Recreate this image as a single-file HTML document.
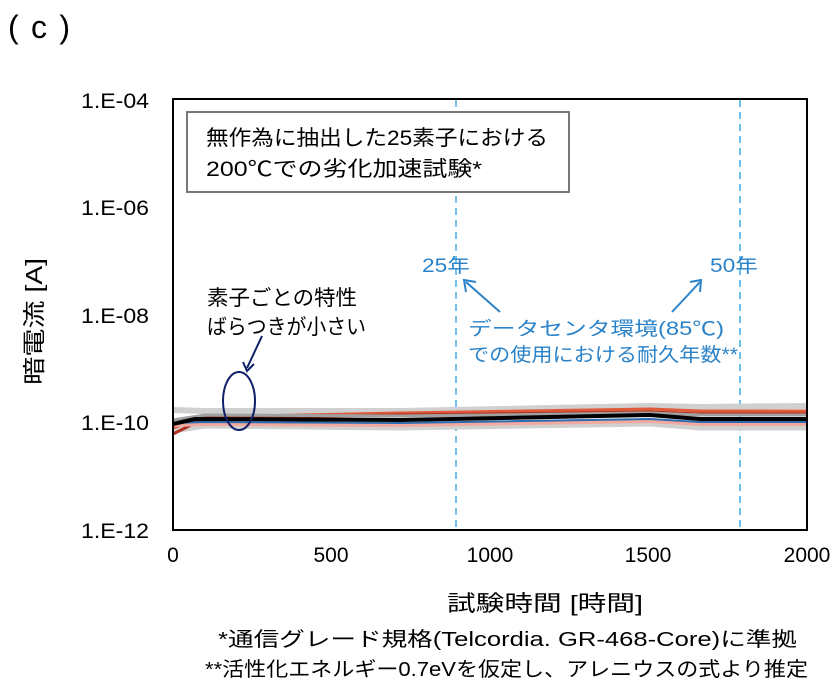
<!DOCTYPE html>
<html><head><meta charset="utf-8"><style>
html,body{margin:0;padding:0;background:#fff}
svg{display:block}
text{font-family:"Liberation Sans","Noto Sans CJK JP",sans-serif}
</style></head><body>
<svg width="838" height="693" viewBox="0 0 838 693" xmlns="http://www.w3.org/2000/svg">
<text x="8" y="38" font-size="32" fill="#000" textLength="62" lengthAdjust="spacing">(c)</text>
<line x1="456" y1="100" x2="456" y2="530" stroke="#6cc4ee" stroke-width="2" stroke-dasharray="7,5"/>
<line x1="740" y1="100" x2="740" y2="530" stroke="#6cc4ee" stroke-width="2" stroke-dasharray="7,5"/>
<g fill="none" stroke-linejoin="round">
<polyline points="173,431 205,426 400,428 650,424 700,428 807,428" stroke="#d0d0d0" stroke-width="5"/>
<polyline points="173,410 205,411 400,411 650,406 700,407 807,406" stroke="#d0d0d0" stroke-width="6"/>
<polyline points="173,428 205,417 400,413 650,409 700,411 807,411" stroke="#e05a3a" stroke-width="3"/>
<polyline points="173,434 205,418 400,415 650,412 700,414 807,414" stroke="#b03020" stroke-width="3"/>
<polyline points="173,425 205,424 400,425 650,421 700,424 807,424" stroke="#f2aaa0" stroke-width="4"/>
<polyline points="173,423 205,422 400,423 650,419 700,422 807,422" stroke="#2b6cb0" stroke-width="2"/>
<polyline points="173,420 205,415 400,416 650,413 700,415 807,415" stroke="#a0a0a0" stroke-width="3"/>
<polyline points="173,424 195,419 400,420 650,415 700,419 807,419" stroke="#000" stroke-width="4"/>
</g>
<rect x="173" y="99" width="634" height="431" fill="none" stroke="#000" stroke-width="2"/>
<g font-size="21" fill="#000" text-anchor="end">
<text x="149" y="108" textLength="68" lengthAdjust="spacingAndGlyphs">1.E-04</text>
<text x="149" y="215" textLength="68" lengthAdjust="spacingAndGlyphs">1.E-06</text>
<text x="149" y="323" textLength="68" lengthAdjust="spacingAndGlyphs">1.E-08</text>
<text x="149" y="430" textLength="68" lengthAdjust="spacingAndGlyphs">1.E-10</text>
<text x="149" y="538" textLength="68" lengthAdjust="spacingAndGlyphs">1.E-12</text>
</g>
<g font-size="21" fill="#000" text-anchor="middle">
<text x="173" y="562">0</text>
<text x="331" y="562">500</text>
<text x="490" y="562">1000</text>
<text x="648" y="562">1500</text>
<text x="807" y="562">2000</text>
</g>
<text x="447" y="611" font-size="22" fill="#000" textLength="196" lengthAdjust="spacingAndGlyphs">試験時間 [時間]</text>
<text transform="translate(42,385) rotate(-90)" font-size="23" fill="#000" textLength="127" lengthAdjust="spacingAndGlyphs">暗電流 [A]</text>
<rect x="187" y="112" width="382" height="80" fill="#fff" stroke="#777" stroke-width="2"/>
<text x="206" y="145" font-size="21" fill="#000" textLength="342" lengthAdjust="spacingAndGlyphs">無作為に抽出した25素子における</text>
<text x="206" y="176" font-size="21" fill="#000" textLength="276" lengthAdjust="spacingAndGlyphs">200℃での劣化加速試験*</text>
<text x="207" y="305" font-size="21" fill="#000" textLength="150" lengthAdjust="spacingAndGlyphs">素子ごとの特性</text>
<text x="207" y="334" font-size="21" fill="#000" textLength="159" lengthAdjust="spacingAndGlyphs">ばらつきが小さい</text>
<ellipse cx="239" cy="401" rx="16" ry="29" fill="none" stroke="#0f1f6a" stroke-width="2"/>
<line x1="262" y1="336" x2="247" y2="368" stroke="#0f1f6a" stroke-width="2"/>
<polyline points="254,364 247,371 243,362" fill="none" stroke="#0f1f6a" stroke-width="2"/>
<g fill="#2a82c8" font-size="19">
<text x="422" y="272" textLength="48" lengthAdjust="spacingAndGlyphs">25年</text>
<text x="710" y="272" textLength="48" lengthAdjust="spacingAndGlyphs">50年</text>
<text x="468" y="335" textLength="256" lengthAdjust="spacingAndGlyphs">データセンタ環境(85℃)</text>
<text x="468" y="361" textLength="270" lengthAdjust="spacingAndGlyphs">での使用における耐久年数**</text>
</g>
<g stroke="#2a82c8" stroke-width="2" fill="none">
<line x1="500" y1="312" x2="466" y2="282"/>
<polyline points="466,292 464,280 476,282"/>
<line x1="672" y1="312" x2="700" y2="282"/>
<polyline points="690,282 701,280 700,292"/>
</g>
<g font-size="20" fill="#000">
<text x="218" y="646" textLength="579" lengthAdjust="spacingAndGlyphs">*通信グレード規格(Telcordia. GR-468-Core)に準拠</text>
<text x="205" y="676" textLength="603" lengthAdjust="spacingAndGlyphs">**活性化エネルギー0.7eVを仮定し、アレニウスの式より推定</text>
</g>
</svg>
</body></html>
